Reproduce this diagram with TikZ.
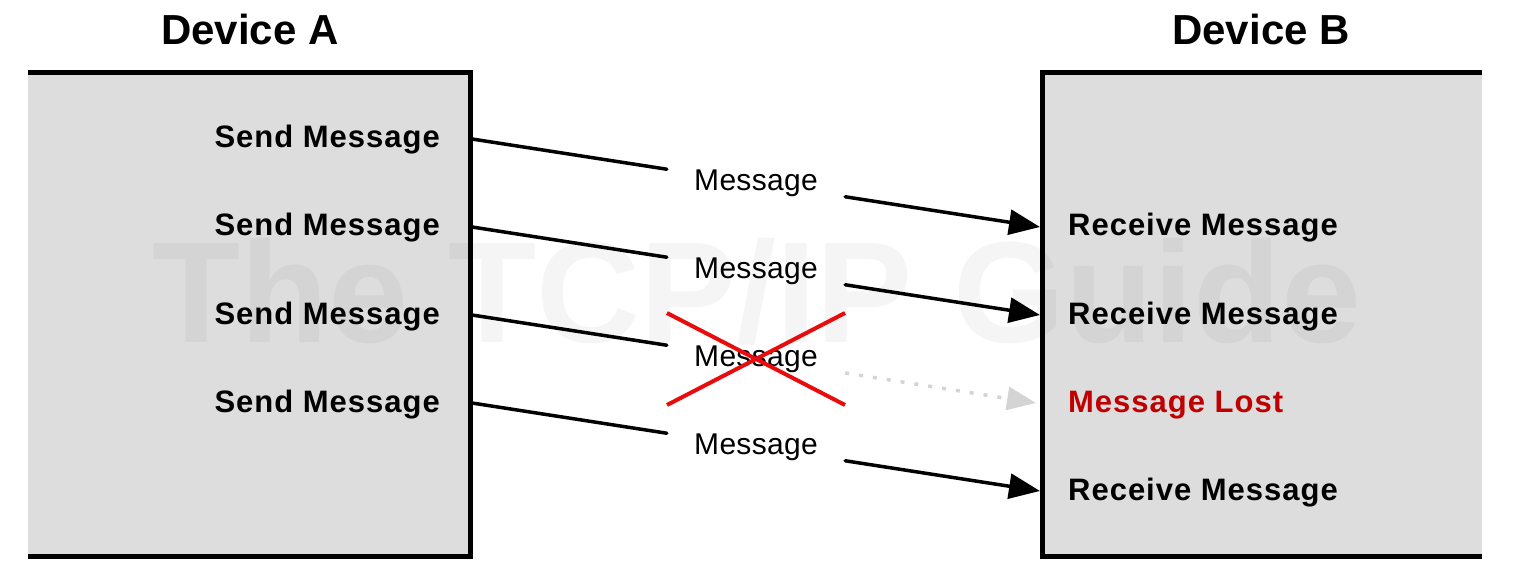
\documentclass[tikz,border=0pt]{standalone}
\usepackage{fontspec}
\setmainfont{Liberation Sans}
\newfontfamily\boldlbl[LetterSpace=3.2]{Liberation Sans Bold}
\newfontfamily\msgfont[LetterSpace=1.0]{Liberation Sans}
\usetikzlibrary{arrows.meta}
\definecolor{boxgray}{RGB}{221,221,221}
\definecolor{lostred}{RGB}{192,0,0}
\definecolor{xred}{RGB}{232,12,12}
\definecolor{ghost}{RGB}{212,212,212}
\begin{document}
\begin{tikzpicture}[x=1pt,y=-1pt,
  boxborder/.style={line width=5pt, line join=miter},
  boxfill/.style={fill=boxgray, draw=none},
  titletext/.style={font=\fontsize{42}{48}\selectfont\bfseries, inner sep=0pt},
  sendlbl/.style={anchor=base east, font=\fontsize{31}{36}\boldlbl, inner sep=0pt},
  recvlbl/.style={anchor=base west, font=\fontsize{31}{36}\boldlbl, inner sep=0pt},
  msglbl/.style={font=\fontsize{30}{34}\msgfont, minimum width=178pt, minimum height=44pt, inner sep=0pt},
  msgline/.style={line width=3.5pt, line cap=round},
  tipline/.style={msgline, -{Triangle[length=31pt,width=25pt]}},
  lostline/.style={line width=3.5pt, draw=ghost, dash pattern=on 4pt off 10pt, -{Triangle[length=29pt,width=23pt,fill=ghost]}},
  xline/.style={line width=4pt, draw=xred},
  wmark/.style={font=\fontsize{144}{150}\selectfont\bfseries, text=black, opacity=0.04, inner sep=0pt}
]
\useasboundingbox (0,0) rectangle (1515,580);
% boxes
\fill[boxfill] (28,73) rectangle (470,556);
\fill[boxfill] (1042,73) rectangle (1482,556);
% watermark
\node[wmark] (wm) at (757,292) {The TCP/IP Guide};
\draw[boxborder] (28,73) -- (470,73) -- (470,556) -- (28,556);
\draw[boxborder] (1482,73) -- (1042,73) -- (1042,556) -- (1482,556);
% titles
\node[titletext] (devA) at (250,29) {Device A};
\node[titletext] (devB) at (1261,29) {Device B};
% send labels
\node[sendlbl] (s1) at (440,148) {Send Message};
\node[sendlbl] (s2) at (440,236) {Send Message};
\node[sendlbl] (s3) at (440,324) {Send Message};
\node[sendlbl] (s4) at (440,412) {Send Message};
% receive labels
\node[recvlbl] (r1) at (1068,236) {Receive Message};
\node[recvlbl] (r2) at (1068,324) {Receive Message};
\node[recvlbl, text=lostred] (r3) at (1068,412) {Message Lost};
\node[recvlbl] (r4) at (1068,500) {Receive Message};
% connector endpoints
\coordinate (a1) at (472,139);
\coordinate (a2) at (472,227);
\coordinate (a3) at (472,315);
\coordinate (a4) at (472,403);
\coordinate (b1) at (1040,227);
\coordinate (b2) at (1040,315);
\coordinate (b3) at (1036,403);
\coordinate (b4) at (1040,491);
% message labels
\node[msglbl] (m1) at (756,183) {Message};
\node[msglbl] (m2) at (756,271) {Message};
\node[msglbl] (m3) at (756,359) {Message};
\node[msglbl] (m4) at (756,447) {Message};
% connectors
\draw[msgline] (a1) -- (m1);
\draw[tipline] (m1) -- (b1);
\draw[msgline] (a2) -- (m2);
\draw[tipline] (m2) -- (b2);
\draw[msgline] (a3) -- (m3);
\draw[lostline] (m3) -- (b3);
\draw[msgline] (a4) -- (m4);
\draw[tipline] (m4) -- (b4);
% red cross
\draw[xline] ([shift={(-89,-46)}]m3.center) -- ([shift={(89,46)}]m3.center);
\draw[xline] ([shift={(-89,46)}]m3.center) -- ([shift={(89,-46)}]m3.center);
\end{tikzpicture}
\end{document}
